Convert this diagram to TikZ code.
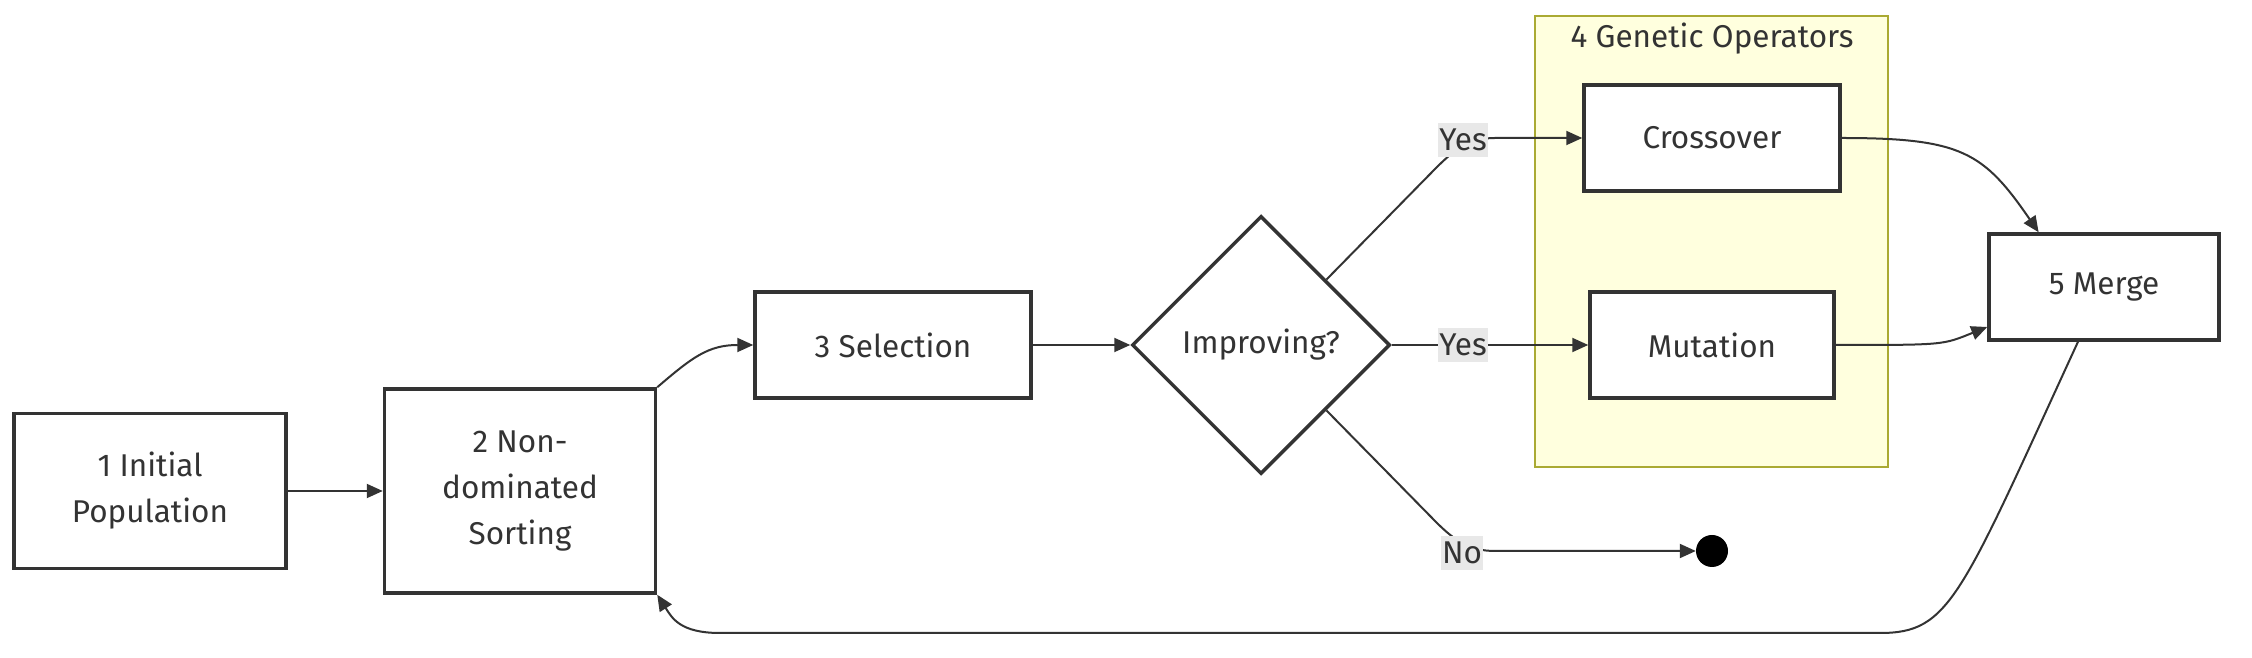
\documentclass[tikz,border=0pt]{standalone}
\usepackage{fontspec}
\setmainfont{Fira Sans}
\usetikzlibrary{arrows.meta,shapes.geometric,calc}
\definecolor{ink}{HTML}{333333}
\definecolor{clfill}{HTML}{FFFFDE}
\definecolor{cldraw}{HTML}{AAAA33}
\definecolor{lblbg}{HTML}{E8E8E8}
\newcommand\nodefont{\fontsize{31.5}{46}\selectfont}
\begin{document}
\begin{tikzpicture}[x=1pt,y=1pt,
  box/.style={draw=ink, line width=3.5pt, fill=white, align=center, font=\nodefont, text=ink, inner sep=0pt},
  decision/.style={draw=ink, line width=3.5pt, fill=white, diamond, aspect=1, minimum width=258pt, minimum height=258pt, inner sep=0pt, font=\nodefont, text=ink},
  cluster/.style={draw=cldraw, line width=2pt, fill=clfill, inner sep=0pt},
  lbl/.style={fill=lblbg, inner xsep=1pt, inner ysep=6pt, font=\nodefont, text=ink},
  flow/.style={draw=ink, line width=2pt, -{Triangle[length=16pt,width=14pt]}},
  endpt/.style={circle, fill=black, minimum size=32pt, inner sep=0pt}
]
\useasboundingbox (0,0) rectangle (2252,658);
% cluster
\node[cluster, minimum width=353pt, minimum height=451pt] (g4) at (1711.5,416.5) {};
\node[font=\nodefont, text=ink] (g4title) at (1712,619) {4 Genetic Operators};
% nodes
\node[box, minimum width=272pt, minimum height=155pt] (n1) at (150,167) {1 Initial\\Population};
\node[box, minimum width=271pt, minimum height=204pt] (n2) at (520,167) {2 Non-\\dominated\\Sorting};
\node[box, minimum width=276pt, minimum height=106pt] (n3) at (893,313) {3 Selection};
\node[decision] (dia) at (1261,313) {Improving?};
\node[box, minimum width=256pt, minimum height=106pt] (n4a) at (1712,520) {Crossover};
\node[box, minimum width=244pt, minimum height=106pt] (n4b) at (1712,313) {Mutation};
\node[box, minimum width=230pt, minimum height=106pt] (n5) at (2104,371) {5 Merge};
\node[endpt] (end) at (1712,107) {};
% bend coordinates
\coordinate (ya1) at (1436,490);
\coordinate (ya2) at (1495,520);
\coordinate (no1) at (1436,136);
\coordinate (no2) at (1495,107);
\coordinate (m5in) at ($(n5.north west)!0.22!(n5.north east)$);
\coordinate (m5left) at ($(n5.west)+(0,-40)$);
\coordinate (m5out) at ($(n5.south)+(-26,0)$);
\coordinate (lp1) at (1880,25);
\coordinate (lp2) at (720,25);
% edges
\draw[flow] (n1.east) -- (n2.west);
\draw[flow] (n2.north east) .. controls +(35,30) and +(-45,0) .. (n3.west);
\draw[flow] (n3.east) -- (dia.west);
\draw[flow] (dia.north east) -- (ya1) to[out=45,in=180] (ya2) -- (n4a.west);
\draw[flow] (dia.east) -- (n4b.west);
\draw[flow] (dia.south east) -- (no1) to[out=-45,in=180] (no2) -- (end.west);
\draw[flow] (n4a.east) .. controls +(120,0) and +(-55,80) .. (m5in);
\draw[flow] (n4b.east) .. controls +(110,0) and +(-45,-18) .. (m5left);
\draw[flow] (m5out) .. controls (1960,60) and (1950,25) .. (lp1) -- (lp2) .. controls (680,25) and (672,40) .. (n2.south east);
% labels
\node[lbl] (yesA) at (1463,518) {Yes};
\node[lbl] (yesB) at (1463,313) {Yes};
\node[lbl] (noL) at (1462,105) {No};
\end{tikzpicture}
\end{document}
